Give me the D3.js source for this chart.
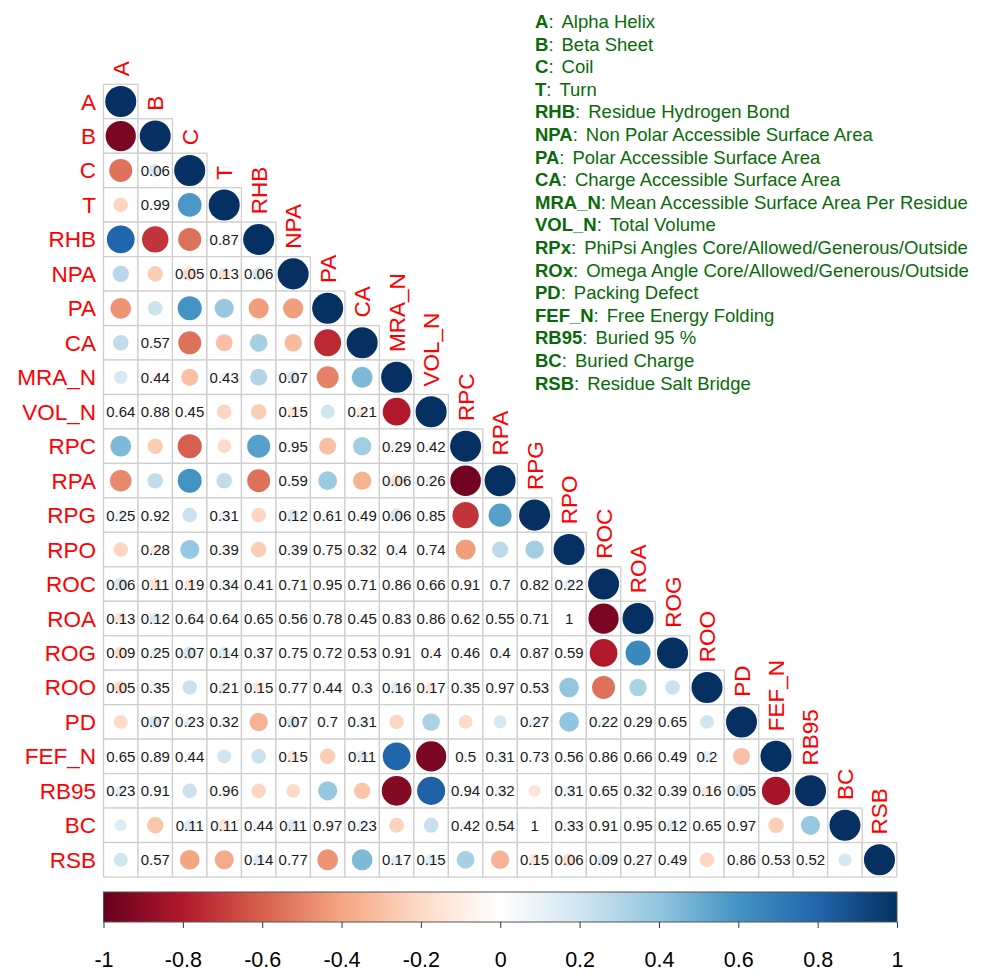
<!DOCTYPE html>
<html>
<head>
<meta charset="utf-8">
<script src="https://cdn.jsdelivr.net/npm/d3@7/dist/d3.min.js"></script>
<style>
  body { margin: 0; background: #fff; }
  text { font-family: "Liberation Sans", Arial, sans-serif; }
</style>
</head>
<body>
<svg></svg>
<script>
const vars = ["A", "B", "C", "T", "RHB", "NPA", "PA", "CA", "MRA_N", "VOL_N", "RPC", "RPA",
    "RPG", "RPO", "ROC", "ROA", "ROG", "ROO", "PD", "FEF_N", "RB95", "BC", "RSB"];

// lower triangle, row i holds columns 0..i-1 (diagonal is 1)
const corr_rows = [
    [],
    [-0.95],
    [-0.55, 0.18],
    [-0.22, 0.00, 0.58],
    [0.8, -0.72, -0.55, 0.02],
    [0.28, -0.25, -0.19, -0.15, 0.18],
    [-0.45, 0.22, 0.6, 0.38, -0.42, -0.42],
    [0.25, 0.06, -0.55, -0.3, 0.33, -0.32, -0.75],
    [0.18, -0.08, -0.3, 0.08, 0.3, 0.17, -0.5, 0.45],
    [0.05, -0.02, 0.08, -0.22, -0.25, -0.14, 0.2, -0.12, -0.8],
    [0.45, -0.25, -0.6, -0.2, 0.55, 0.01, -0.3, 0.35, 0.1, -0.08],
    [-0.48, 0.25, 0.6, 0.25, -0.55, 0.05, 0.37, -0.35, -0.18, 0.11, -0.97],
    [0.11, 0.01, 0.22, 0.1, -0.22, 0.15, 0.05, -0.07, 0.18, 0.02, -0.72, 0.55],
    [-0.22, -0.11, 0.38, -0.08, -0.25, 0.08, 0.03, -0.1, 0.08, 0.03, -0.42, 0.27, 0.35],
    [0.18, -0.15, -0.13, 0.09, 0.08, 0.04, 0.01, 0.04, 0.02, 0.04, 0.01, 0.04, 0.02, 0.12],
    [-0.15, 0.15, 0.05, 0.05, 0.04, 0.06, 0.03, 0.07, 0.02, 0.02, 0.05, 0.06, 0.04, 0.0, -0.95],
    [-0.17, 0.11, 0.18, 0.15, 0.09, 0.03, 0.04, 0.06, 0.01, -0.08, 0.07, 0.08, 0.02, 0.05, -0.8, 0.65],
    [-0.19, 0.09, 0.22, 0.12, -0.14, 0.03, 0.08, 0.1, 0.14, -0.13, 0.09, 0.0, 0.06, 0.4, -0.55, 0.32, 0.22],
    [-0.2, 0.17, 0.12, 0.09, -0.35, 0.17, 0.04, 0.1, -0.22, 0.32, -0.2, 0.18, 0.11, 0.4, 0.12, 0.1, 0.04, 0.2],
    [0.04, 0.01, 0.07, 0.2, 0.22, -0.14, -0.25, 0.15, 0.8, -0.95, 0.06, 0.1, -0.03, 0.06, 0.02, 0.04, 0.07, 0.12, -0.3],
    [0.12, 0.01, 0.22, 0.0, -0.22, -0.2, 0.38, -0.28, -0.92, 0.82, 0.01, 0.1, -0.15, 0.1, 0.04, 0.1, 0.08, -0.13, 0.19, -0.83],
    [0.15, -0.28, 0.15, -0.15, 0.07, 0.15, 0.0, 0.12, -0.23, 0.23, 0.08, 0.06, 0.0, 0.09, 0.01, 0.0, 0.15, 0.04, 0.0, -0.25, 0.38],
    [0.2, 0.05, -0.4, -0.38, 0.14, 0.03, -0.45, 0.45, 0.13, 0.14, 0.33, -0.35, -0.14, -0.18, 0.16, 0.1, 0.07, -0.22, 0.02, 0.06, 0.06, 0.18]
];

// p-values printed for insignificant pairs (null = significant)
const p_rows = [
    [],
    [null],
    [null, "0.06"],
    [null, "0.99", null],
    [null, null, null, "0.87"],
    [null, null, "0.05", "0.13", "0.06"],
    [null, null, null, null, null, null],
    [null, "0.57", null, null, null, null, null],
    [null, "0.44", null, "0.43", null, "0.07", null, null],
    ["0.64", "0.88", "0.45", null, null, "0.15", null, "0.21", null],
    [null, null, null, null, null, "0.95", null, null, "0.29", "0.42"],
    [null, null, null, null, null, "0.59", null, null, "0.06", "0.26", null],
    ["0.25", "0.92", null, "0.31", null, "0.12", "0.61", "0.49", "0.06", "0.85", null, null],
    [null, "0.28", null, "0.39", null, "0.39", "0.75", "0.32", "0.4", "0.74", null, null, null],
    ["0.06", "0.11", "0.19", "0.34", "0.41", "0.71", "0.95", "0.71", "0.86", "0.66", "0.91", "0.7", "0.82", "0.22"],
    ["0.13", "0.12", "0.64", "0.64", "0.65", "0.56", "0.78", "0.45", "0.83", "0.86", "0.62", "0.55", "0.71", "1", null],
    ["0.09", "0.25", "0.07", "0.14", "0.37", "0.75", "0.72", "0.53", "0.91", "0.4", "0.46", "0.4", "0.87", "0.59", null, null],
    ["0.05", "0.35", null, "0.21", "0.15", "0.77", "0.44", "0.3", "0.16", "0.17", "0.35", "0.97", "0.53", null, null, null, null],
    [null, "0.07", "0.23", "0.32", null, "0.07", "0.7", "0.31", null, null, null, null, "0.27", null, "0.22", "0.29", "0.65", null],
    ["0.65", "0.89", "0.44", null, null, "0.15", null, "0.11", null, null, "0.5", "0.31", "0.73", "0.56", "0.86", "0.66", "0.49", "0.2", null],
    ["0.23", "0.91", null, "0.96", null, null, null, null, null, null, "0.94", "0.32", null, "0.31", "0.65", "0.32", "0.39", "0.16", "0.05", null],
    [null, null, "0.11", "0.11", "0.44", "0.11", "0.97", "0.23", null, null, "0.42", "0.54", "1", "0.33", "0.91", "0.95", "0.12", "0.65", "0.97", null, null],
    [null, "0.57", null, null, "0.14", "0.77", null, null, "0.17", "0.15", null, null, "0.15", "0.06", "0.09", "0.27", "0.49", null, "0.86", "0.53", "0.52", null]
];

const legend_keys = ["A", "B", "C", "T", "RHB", "NPA", "PA", "CA", "MRA_N", "VOL_N", "RPx", "ROx",
    "PD", "FEF_N", "RB95", "BC", "RSB"];
const legend_names = ["Alpha Helix", "Beta Sheet", "Coil", "Turn", "Residue Hydrogen Bond",
    "Non Polar Accessible Surface Area", "Polar Accessible Surface Area",
    "Charge Accessible Surface Area", "Mean Accessible Surface Area Per Residue", "Total Volume",
    "PhiPsi Angles Core/Allowed/Generous/Outside", "Omega Angle Core/Allowed/Generous/Outside",
    "Packing Defect", "Free Energy Folding", "Buried 95 %", "Buried Charge", "Residue Salt Bridge"];

const bar_ticks = [-1, -0.8, -0.6, -0.4, -0.2, 0, 0.2, 0.4, 0.6, 0.8, 1];
const palette = ["#67001F", "#B2182B", "#D6604D", "#F4A582", "#FDDBC7", "#FFFFFF",
    "#D1E5F0", "#92C5DE", "#4393C3", "#2166AC", "#053061"];

const width = 987, height = 980;
const svg = d3.select("svg").attr("width", width).attr("height", height);

const x = d3.scaleBand().domain(vars).range([103.5, 896.7]);
const y = d3.scaleBand().domain(vars).range([84.3, 877]);
const bw = x.bandwidth();
const colour = d3.scaleLinear().domain(bar_ticks).range(palette);

// flatten lower triangle + diagonal into cells
let cells = [];
vars.forEach((rv, i) => {
    for (let j = 0; j <= i; j++) {
        cells.push({
            row: rv,
            col: vars[j],
            r: j == i ? 1 : corr_rows[i][j],
            p: j == i ? null : p_rows[i][j]
        });
    }
});

const grid = svg.append("g");

grid.selectAll("rect")
    .data(cells)
    .enter()
    .append("rect")
    .attr("x", d => x(d.col))
    .attr("y", d => y(d.row))
    .attr("width", bw)
    .attr("height", bw)
    .attr("fill", "white")
    .attr("stroke", "#cfcfcf")
    .attr("stroke-width", 1.3);

grid.selectAll("circle")
    .data(cells)
    .enter()
    .append("circle")
    .attr("cx", d => x(d.col) + bw / 2)
    .attr("cy", d => y(d.row) + bw / 2)
    .attr("r", d => 0.45 * bw * Math.sqrt(Math.abs(d.r)))
    .attr("fill", d => colour(d.r));

grid.selectAll("text.pval")
    .data(cells.filter(d => d.p !== null))
    .enter()
    .append("text")
    .attr("class", "pval")
    .attr("x", d => x(d.col) + bw / 2)
    .attr("y", d => y(d.row) + bw / 2 + 5.5)
    .attr("text-anchor", "middle")
    .attr("font-size", 15)
    .attr("fill", "#1a1a1a")
    .text(d => d.p);

// row labels
svg.append("g")
    .selectAll("text")
    .data(vars)
    .enter()
    .append("text")
    .attr("x", 96)
    .attr("y", d => y(d) + bw / 2 + 8)
    .attr("text-anchor", "end")
    .attr("font-size", 22.5)
    .attr("fill", "#ff0000")
    .text(d => d);

// column labels above the diagonal
svg.append("g")
    .selectAll("text")
    .data(vars)
    .enter()
    .append("text")
    .attr("transform", d => "translate(" + (x(d) + bw / 2 + 8) + "," + (y(d) - 8) + ") rotate(-90)")
    .attr("text-anchor", "start")
    .attr("font-size", 22.5)
    .attr("fill", "#ff0000")
    .text(d => d);

// colour bar
const bar_x = d3.scaleLinear().domain([-1, 1]).range([103.5, 897]);
const bar_top = 892, bar_h = 30;

const grad = svg.append("defs")
    .append("linearGradient")
    .attr("id", "rdbu")
    .attr("x1", "0%").attr("x2", "100%").attr("y1", "0%").attr("y2", "0%");

grad.selectAll("stop")
    .data(bar_ticks)
    .enter()
    .append("stop")
    .attr("offset", d => ((d + 1) / 2 * 100) + "%")
    .attr("stop-color", d => colour(d));

svg.append("rect")
    .attr("x", bar_x(-1))
    .attr("y", bar_top)
    .attr("width", bar_x(1) - bar_x(-1))
    .attr("height", bar_h)
    .attr("fill", "url(#rdbu)")
    .attr("stroke", "#555")
    .attr("stroke-width", 1);

const bar_axis = svg.append("g")
    .attr("transform", "translate(0," + (bar_top + bar_h) + ")")
    .call(d3.axisBottom(bar_x).tickValues(bar_ticks).tickSize(6).tickPadding(24).tickFormat(d3.format("")));

bar_axis.select(".domain").remove();
bar_axis.selectAll("line").attr("stroke", "#333");
bar_axis.selectAll("text")
    .attr("font-size", 21.5)
    .attr("fill", "#000")
    .style("font-family", "'Liberation Sans', Arial, sans-serif")
    .text(d => d3.format("")(d).replace("−", "-"));

// abbreviation legend
const legend = svg.append("g").attr("transform", "translate(535,0)");

legend.selectAll("text")
    .data(legend_keys)
    .enter()
    .append("text")
    .attr("x", 0)
    .attr("y", (d, i) => 28 + i * 22.6)
    .attr("font-size", 18.5)
    .attr("fill", "#0a6a0a")
    .each(function(d, i) {
        const t = d3.select(this);
        t.append("tspan").attr("font-weight", "bold").text(d);
        t.append("tspan").text(":");
        t.append("tspan").attr("dx", d == "MRA_N" ? 4 : 8).text(legend_names[i]);
    });
</script>
</body>
</html>
